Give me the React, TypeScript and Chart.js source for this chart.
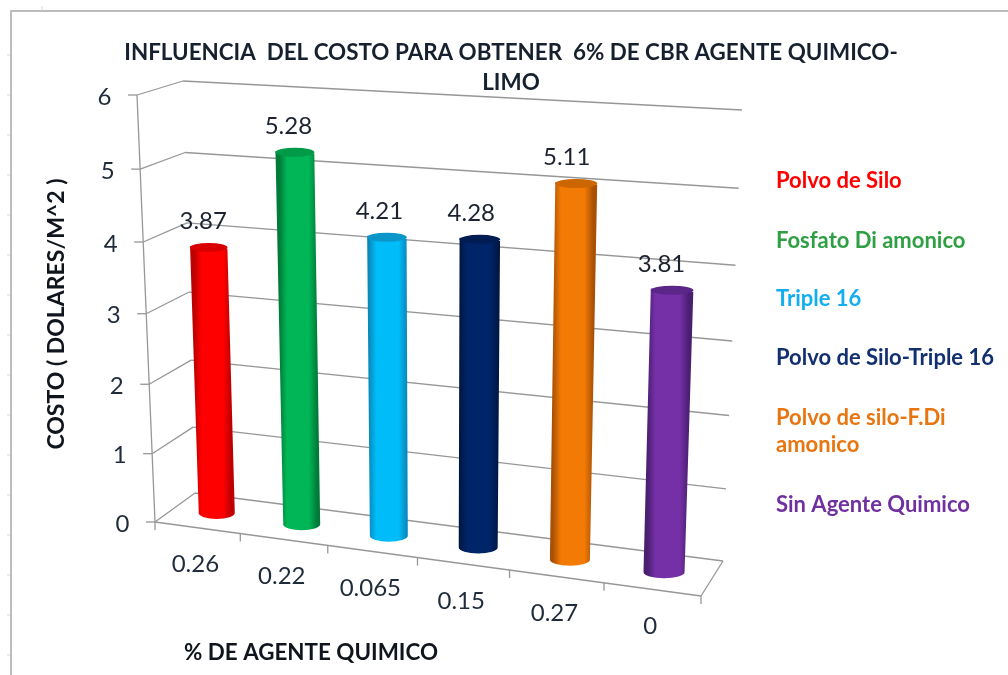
import React, { useEffect, useRef } from "react";
import { Chart, registerables } from "chart.js";

Chart.register(...registerables);

const agentPercent = ["0.26", "0.22", "0.065", "0.15", "0.27", "0"];
const costValues = [3.87, 5.28, 4.21, 4.28, 5.11, 3.81];
const legendNames = [
  ["Polvo de Silo"],
  ["Fosfato Di amonico"],
  ["Triple 16"],
  ["Polvo de Silo-Triple 16"],
  ["Polvo de silo-F.Di", "amonico"],
  ["Sin Agente Quimico"],
];
const legendColors = ["#ff0000", "#2ea043", "#12aef0", "#12306f", "#e8750f", "#7030a0"];
const bodyEdge = ["#bf0000", "#007a38", "#0a86b8", "#001640", "#a85005", "#4a1f70"];
const bodyMid = ["#ff0000", "#00b656", "#00bcf8", "#002468", "#f27a05", "#7530a8"];
const capColor = ["#d80000", "#009a48", "#0a96c8", "#001c52", "#cc6602", "#5c2688"];
const titleLines = ["INFLUENCIA  DEL COSTO PARA OBTENER  6% DE CBR AGENTE QUIMICO-", "LIMO"];
const yTitle = "COSTO ( DOLARES/M^2 )";
const xTitle = "% DE AGENTE QUIMICO";

type P = [number, number];
const lerp = (a: P, b: P, t: number): P => [a[0] + (b[0] - a[0]) * t, a[1] + (b[1] - a[1]) * t];
const warp = (t: number, r: number) => t / (r - (r - 1) * t);
const WARP_U = 1.08;
const WARP_V = 1.05;

// Frame of the 3D box on the screen
const FL0: P = [155, 522], FL1: P = [137, 95];
const BL0: P = [195, 493], BL1: P = [183, 81];
const BR0: P = [723, 561], BR1: P = [742, 110];
const FR0: P = [701, 596];
// Plane in which the cylinders stand
const PB_L: P = [175, 507.5], PB_R: P = [712, 578.5];
const PT_L: P = [160, 91.5], PT_R: P = [727.6, 123];

const barPlane = (u: number, t: number): P => {
  const wu = warp(u, WARP_U);
  const wv = warp(t, WARP_V);
  return lerp(lerp(PB_L, PB_R, wu), lerp(PT_L, PT_R, wu), wv);
};

const line = (ctx: CanvasRenderingContext2D, a: P, b: P) => {
  ctx.beginPath();
  ctx.moveTo(a[0], a[1]);
  ctx.lineTo(b[0], b[1]);
  ctx.stroke();
};

const FONT = "Lato, 'Open Sans', sans-serif";
const NUM_SIZE = 24;

const box3d = {
  id: "box3d",
  beforeDatasetsDraw(chart: any) {
    const { ctx, scales } = chart;
    const y = scales.y;
    ctx.save();
    // sheet frame and ruler marks
    ctx.strokeStyle = "#bdbdbd";
    ctx.lineWidth = 2;
    ctx.beginPath();
    ctx.moveTo(11, 675);
    ctx.lineTo(11, 11);
    ctx.lineTo(1008, 11);
    ctx.stroke();
    ctx.lineWidth = 1;
    ctx.strokeStyle = "#d8d8d8";
    for (let k = 55; k < 675; k += 40) line(ctx, [7, k], [10, k]);
    line(ctx, [42, 6], [42, 10]);

    // walls
    ctx.strokeStyle = "#979797";
    ctx.lineWidth = 1.3;
    ctx.font = `${NUM_SIZE}px ${FONT}`;
    ctx.textAlign = "center";
    ctx.textBaseline = "middle";
    ctx.fillStyle = "#1f2a3a";
    for (const tick of y.ticks) {
      const t = warp((tick.value - y.min) / (y.max - y.min), WARP_V);
      const f = lerp(FL0, FL1, t);
      const bl = lerp(BL0, BL1, t);
      const br = lerp(BR0, BR1, t);
      line(ctx, f, bl);
      line(ctx, bl, br);
      line(ctx, f, [f[0] - 9, f[1]]);
      ctx.fillText(String(tick.value), f[0] - 32.5, f[1] + 2);
    }
    line(ctx, FL0, FL1);
    line(ctx, FL0, FR0);
    line(ctx, FR0, BR0);
    const labels: string[] = scales.x.getLabels();
    for (let k = 0; k <= labels.length; k++) {
      const p = lerp(FL0, FR0, warp(k / labels.length, WARP_U));
      line(ctx, p, [p[0], p[1] + 8]);
    }
    labels.forEach((lab, i) => {
      const p = lerp(FL0, FR0, warp((i + 0.5) / labels.length, WARP_U));
      ctx.fillText(lab, p[0] - 2, p[1] + 37);
    });
    ctx.restore();
  },
  beforeDatasetDraw(chart: any, args: any) {
    const { ctx, scales, chartArea } = chart;
    const y = scales.y;
    const W = chartArea.right - chartArea.left;
    const meta = args.meta;
    ctx.save();
    meta.data.forEach((el: any, i: number) => {
      const uL = (el.x - el.width / 2 - chartArea.left) / W;
      const uR = (el.x + el.width / 2 - chartArea.left) / W;
      const tTop = (y.getValueForPixel(el.y) - y.min) / (y.max - y.min);
      const tBase = (y.getValueForPixel(el.base) - y.min) / (y.max - y.min);
      const tl = barPlane(uL, tTop), tr = barPlane(uR, tTop);
      const bl = barPlane(uL, tBase), br = barPlane(uR, tBase);
      const topC = lerp(tl, tr, 0.5), botC = lerp(bl, br, 0.5);
      const ml = lerp(tl, bl, 0.5), mr = lerp(tr, br, 0.5);
      const g = ctx.createLinearGradient(ml[0], 0, mr[0], 0);
      g.addColorStop(0, bodyEdge[i]);
      g.addColorStop(0.2, bodyMid[i]);
      g.addColorStop(0.78, bodyMid[i]);
      g.addColorStop(1, bodyEdge[i]);
      ctx.fillStyle = g;
      ctx.beginPath();
      ctx.moveTo(tl[0], tl[1]);
      ctx.lineTo(bl[0], bl[1]);
      ctx.ellipse(botC[0], botC[1], (br[0] - bl[0]) / 2, 6, 0, Math.PI, 0, true);
      ctx.lineTo(tr[0], tr[1]);
      ctx.closePath();
      ctx.fill();
      ctx.fillStyle = capColor[i];
      ctx.beginPath();
      ctx.ellipse(topC[0], topC[1], (tr[0] - tl[0]) / 2, 4.5, 0, 0, Math.PI * 2);
      ctx.fill();

      // value label
      const u = (uL + uR) / 2;
      ctx.fillStyle = "#1c2230";
      ctx.font = `${NUM_SIZE}px ${FONT}`;
      ctx.textAlign = "center";
      ctx.textBaseline = "middle";
      ctx.fillText(
        chart.data.datasets[0].data[i].toFixed(2),
        topC[0] - (5 + 6 * u),
        topC[1] - 26
      );
    });
    ctx.restore();
    return false;
  },
  afterDatasetsDraw(chart: any) {
    const { ctx } = chart;
    ctx.save();
    ctx.font = `bold 22px ${FONT}`;
    ctx.textAlign = "left";
    ctx.textBaseline = "middle";
    const rows = [181, 241, 299, 358, 418, 505];
    legendNames.forEach((lines, i) => {
      ctx.fillStyle = legendColors[i];
      lines.forEach((txt, k) => ctx.fillText(txt, 776, rows[i] + k * 27));
    });
    ctx.restore();
  },
};

export default function App() {
  const ref = useRef<HTMLCanvasElement>(null);
  useEffect(() => {
    const chart = new Chart(ref.current!, {
      type: "bar",
      data: {
        labels: agentPercent,
        datasets: [
          {
            label: "Costo",
            data: costValues,
            backgroundColor: bodyMid,
            barPercentage: 0.43,
            categoryPercentage: 1,
          },
        ],
      },
      options: {
        responsive: false,
        animation: false,
        layout: { padding: { left: 39, right: 25, top: 0, bottom: 5 } },
        plugins: {
          legend: { display: false },
          tooltip: { enabled: false },
          title: {
            display: true,
            text: titleLines,
            color: "#16202e",
            font: { family: FONT, size: 22.4, weight: "bold", lineHeight: 1.34 },
            padding: { top: 38, bottom: 2 },
          },
        },
        scales: {
          x: {
            offset: true,
            grid: { display: false },
            border: { display: false },
            ticks: { display: false },
            title: {
              display: true,
              text: xTitle,
              align: "start",
              color: "#10141c",
              font: { family: FONT, size: 22.4, weight: "bold", lineHeight: 1.2 },
              padding: { top: 103, bottom: 4 },
            },
          },
          y: {
            min: 0,
            max: 6,
            grid: { display: false },
            border: { display: false },
            ticks: { display: false, stepSize: 1 },
            afterFit: (s: any) => {
              s.width = 145;
            },
            title: {
              display: true,
              text: yTitle,
              color: "#10141c",
              font: { family: FONT, size: 23, weight: "bold", lineHeight: 1.2 },
              padding: { top: 4, bottom: 4 },
            },
          },
        },
      },
      plugins: [box3d],
    } as any);
    return () => chart.destroy();
  }, []);
  return (
    <canvas
      ref={ref}
      width={1008}
      height={675}
      style={{ position: "fixed", left: 0, top: 0, display: "block", background: "#fff", filter: "blur(0.4px)" }}
    />
  );
}
